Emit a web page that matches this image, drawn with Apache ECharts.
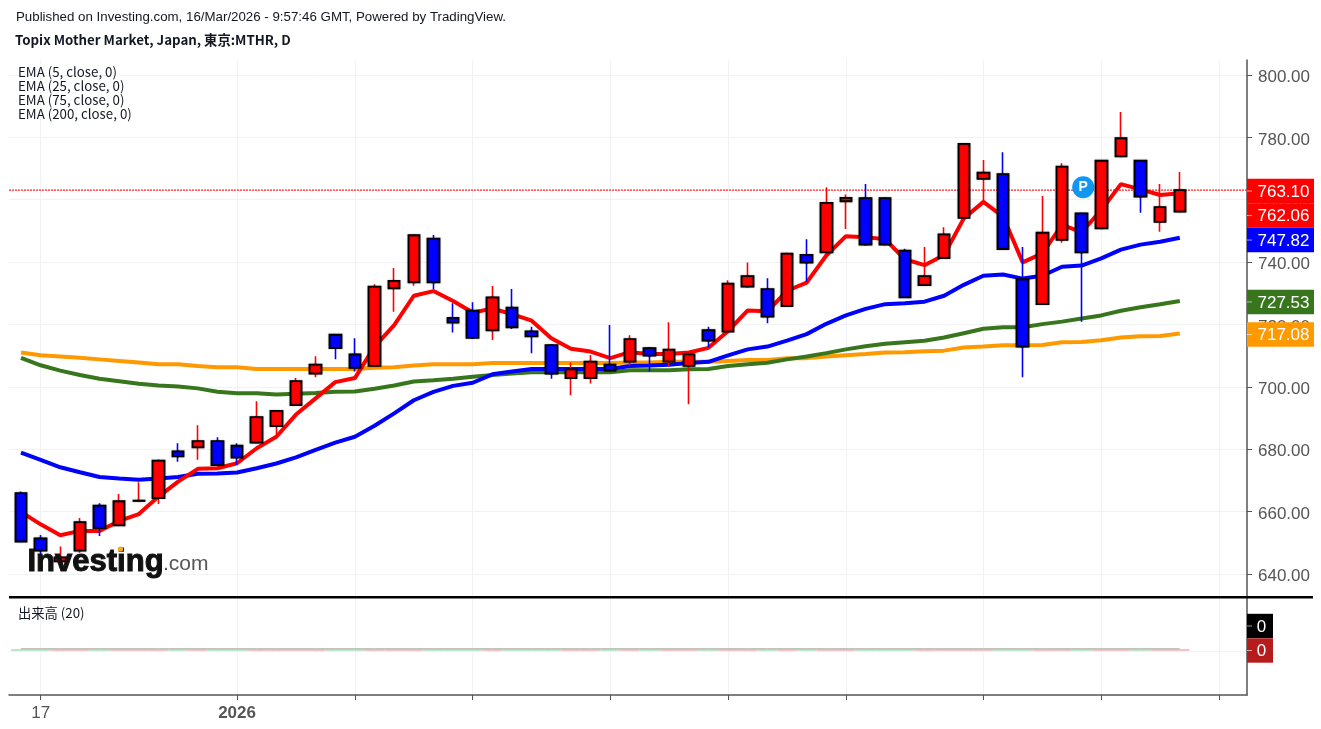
<!DOCTYPE html>
<html>
<head>
    <meta charset="utf-8">
    <title>Topix Mother Market</title>
    <script src="https://cdn.jsdelivr.net/npm/echarts@6/dist/echarts.min.js"></script>
    <style>html, body { margin: 0; padding: 0; background: #fff; overflow: hidden; }</style>
</head>
<body>
    <div id="chartwin" style="width: 1321px;height:729px;"></div>
    <script type="text/javascript">
// candles, left to right, one per trading day
var opens  = [665.9,651.4,644.0,647.5,661.9,655.6,663.4,664.3,679.3,680.6,682.6,681.1,682.1,687.4,694.1,704.2,716.7,710.4,706.7,731.6,733.5,747.5,722.1,724.4,718.1,725.4,717.8,713.4,702.8,702.8,707.1,708.1,712.4,708.1,706.7,718.2,717.7,732.1,731.3,725.9,742.3,743.1,759.5,760.5,760.5,743.7,732.6,741.3,754.2,766.7,768.2,734.5,726.5,747.1,755.6,750.8,773.9,772.5,752.9,756.2];
var closes = [650.4,647.5,645.3,656.6,654.7,663.3,663.5,676.3,677.7,682.6,674.9,677.3,690.3,692.3,701.8,707.1,712.4,706.1,732.1,734.0,748.6,733.5,720.6,715.7,728.7,719.1,716.2,704.2,705.6,708.1,705.2,715.3,710.0,711.9,710.4,714.8,733.1,735.5,722.5,742.7,739.8,759.0,760.6,745.6,745.6,728.7,735.5,748.9,777.9,768.7,744.2,712.9,749.4,770.6,743.1,772.5,779.7,761.0,757.6,763.1];
var lows   = [650.4,645.8,643.2,646.8,652.2,655.6,663.4,662.4,676.0,676.6,674.9,674.9,682.1,684.6,694.1,703.1,708.8,704.9,706.7,724.1,732.4,731.3,717.4,715.7,715.0,718.5,710.8,702.6,697.3,701.1,704.9,706.8,704.9,706.5,694.4,712.7,717.7,732.0,720.4,725.9,733.7,743.1,750.6,745.6,745.6,728.7,732.6,741.3,754.2,759.4,744.2,703.1,726.5,746.2,720.9,750.8,773.9,755.8,749.7,756.2];
var highs  = [666.4,652.5,648.8,657.9,662.7,665.6,669.4,676.7,681.9,687.7,683.8,681.9,695.4,692.3,702.8,709.8,716.7,715.6,732.9,738.1,748.6,748.7,726.8,727.1,732.3,731.4,719.3,713.4,707.8,710.2,719.8,716.5,712.6,720.7,710.8,719.3,734.2,739.9,734.8,743.0,747.3,764.0,761.7,765.0,760.5,744.3,744.8,751.2,778.1,772.7,775.2,744.8,761.2,771.7,755.8,772.5,788.1,772.5,765.0,768.9];

var ema5   = [659.9,655.9,652.4,653.8,653.8,657.0,659.2,664.8,669.6,673.7,673.9,675.5,680.3,684.0,691.1,696.3,701.5,702.8,712.9,719.8,729.2,730.7,727.5,723.8,725.1,723.3,721.2,715.6,712.2,711.3,709.2,711.1,710.5,710.5,711.0,712.5,717.9,724.5,724.2,730.8,733.4,742.1,748.3,748.0,747.3,740.9,739.0,742.3,754.0,759.3,754.6,739.9,742.8,751.9,749.6,756.7,765.0,763.3,761.5,762.06];
var ema25  = [678.9,676.6,674.2,672.6,671.1,670.6,670.2,670.6,671.1,672.1,672.2,672.5,673.9,675.4,677.4,679.8,682.1,684.0,687.5,691.5,695.7,698.4,700.3,701.3,704.0,704.9,705.7,705.7,705.7,705.7,705.7,706.7,706.8,707.1,707.6,708.0,710.1,712.0,712.9,714.8,716.9,720.2,722.9,725.0,726.5,726.8,727.3,729.2,732.7,735.6,736.0,734.7,735.6,738.5,738.9,741.2,744.0,745.6,746.5,747.82];
var ema75  = [709.3,706.9,705.2,703.8,702.6,701.8,701.0,700.4,700.1,699.5,698.4,697.9,697.9,697.5,697.8,698.0,698.4,698.5,699.4,700.4,701.7,702.1,702.6,703.2,703.8,704.3,704.7,704.7,704.7,704.7,704.7,705.3,705.3,705.3,705.6,705.7,706.7,707.2,707.7,708.8,709.7,710.8,712.0,713.0,713.8,714.3,714.8,715.8,717.2,718.6,719.1,719.1,720.1,720.9,721.9,722.9,724.4,725.5,726.5,727.53];
var ema200 = [711.0,710.1,709.7,709.3,708.8,708.3,707.8,707.2,707.2,706.7,706.3,706.3,705.7,705.7,705.7,705.7,705.7,705.7,706.1,706.3,706.8,707.2,707.2,707.2,707.6,707.6,707.6,707.6,707.6,707.6,707.6,707.8,707.8,708.0,708.0,708.0,708.3,708.6,708.6,709.2,709.2,709.7,710.1,710.5,711.0,711.1,711.4,711.6,712.6,712.9,713.3,713.3,713.4,714.3,714.4,714.9,715.8,716.2,716.3,717.08];

// the export carries no volume, every bar reads 0
var volumes = [0,0,0,0,0,0,0,0,0,0,0,0,0,0,0,0,0,0,0,0,0,0,0,0,0,0,0,0,0,0,0,0,0,0,0,0,0,0,0,0,0,0,0,0,0,0,0,0,0,0,0,0,0,0,0,0,0,0,0,0];

var priceTicks = [640, 660, 680, 700, 720, 740, 760, 780, 800];
var timeTicks  = [1, 11, 17, 23, 30, 36, 42, 49, 55, 61];
var timeLabelAt = [1, 11];
var timeLabels  = ['17', '{b|2026}'];
var lastPrice = 763.10;

var priceTags = [763.10, 762.06, 747.82, 727.53, 717.08];
var priceTagColors = ['#ff0000', '#ff0000', '#0000ff', '#38761d', '#ff9900'];
var volTagLevels = [24, 0];
var volTagColors = ['#000000', '#b71c1c'];

var legendLines = ['EMA (5, close, 0)', 'EMA (25, close, 0)', 'EMA (75, close, 0)', 'EMA (200, close, 0)'];

var X_MIN = -0.611, X_MAX = 62.42;
var AXIS_COLOR = '#555555', GRID_COLOR = '#f0f2f6';

var ohlc = opens.map(function (o, i) { return [i, o, closes[i], lows[i], highs[i]]; });
// second pass without wicks, so only the body gets the black border
var bodies = opens.map(function (o, i) { return [i, o, closes[i], Math.min(o, closes[i]), Math.max(o, closes[i])]; });
var volBars = volumes.map(function (v, i) {
    return { value: [i, v], itemStyle: { color: closes[i] >= opens[i] ? '#f3b4b4' : '#aee0bc' } };
});

function emaSeries(name, values, color) {
    return {
        type: 'line', name: name, xAxisIndex: 0, yAxisIndex: 0, z: 3,
        data: values.map(function (v, i) { return [i, v]; }),
        showSymbol: false, silent: true,
        lineStyle: { color: color, width: 4 }
    };
}

// right hand price badges, pushed down when they would overlap
function tagSeries(xIdx, yIdx, levels, colors, width, texts, offset, textDx) {
    var lastY = -1000;
    return {
        type: 'custom', xAxisIndex: xIdx, yAxisIndex: yIdx, z: 10, silent: true,
        data: levels.map(function (v) { return [X_MAX, v]; }),
        renderItem: function (params, api) {
            var p = api.coord([X_MAX, api.value(1)]);
            if (params.dataIndex === 0) { lastY = -1000; }
            var y = Math.max(p[1] + offset, lastY + 24.5);
            lastY = y;
            return {
                type: 'group',
                children: [
                    { type: 'rect', shape: { x: p[0], y: y - 12.2, width: width, height: 24.4 }, style: { fill: colors[params.dataIndex] } },
                    { type: 'line', shape: { x1: p[0], y1: y, x2: p[0] + 5, y2: y }, style: { stroke: '#ffffff', opacity: 0.6, lineWidth: 1 } },
                    { type: 'text', style: { x: p[0] + width / 2 + textDx, y: y + 1, text: texts[params.dataIndex], fill: '#ffffff', font: '17px "Liberation Sans"', align: 'center', verticalAlign: 'middle' } }
                ]
            };
        }
    };
}

var myChart = echarts.init(document.getElementById('chartwin'));

var legendTexts = legendLines.map(function (t, i) {
    return { type: 'text', left: 18, top: 65.5 + i * 14, z: 20, style: { text: t, fill: '#131722', font: '13.3px "Noto Sans CJK JP"' } };
});

var option = {
    animation: false,
    backgroundColor: '#ffffff',
    textStyle: { fontFamily: 'Liberation Sans' },
    grid: [
        { left: 9, top: 60, width: 1238, height: 537 },
        { left: 9, top: 598, width: 1238, height: 97 }
    ],
    xAxis: [
        {
            type: 'value', gridIndex: 0, min: X_MIN, max: X_MAX,
            axisLine: { show: false },
            axisTick: { show: false, customValues: timeTicks },
            axisLabel: { show: false, customValues: timeLabelAt },
            splitLine: { show: true, lineStyle: { color: GRID_COLOR } }
        },
        {
            type: 'value', gridIndex: 1, min: X_MIN, max: X_MAX,
            axisLine: { show: true, onZero: false, lineStyle: { color: AXIS_COLOR, width: 1.5 } },
            axisTick: { show: true, length: 5, customValues: timeTicks, lineStyle: { color: AXIS_COLOR } },
            axisLabel: {
                show: true, customValues: timeLabelAt, color: AXIS_COLOR, fontSize: 17, margin: 10,
                formatter: function (v) { return timeLabels[timeLabelAt.indexOf(v)]; },
                rich: { b: { fontWeight: 'bold', fontSize: 17, color: AXIS_COLOR } }
            },
            splitLine: { show: true, lineStyle: { color: GRID_COLOR } }
        }
    ],
    yAxis: [
        {
            type: 'value', gridIndex: 0, position: 'right', min: 632.6, max: 804.8,
            axisLine: { show: true, onZero: false, lineStyle: { color: AXIS_COLOR, width: 1.5 } },
            axisTick: { show: true, length: 5, customValues: priceTicks, lineStyle: { color: AXIS_COLOR } },
            axisLabel: {
                show: true, customValues: priceTicks, color: AXIS_COLOR, fontSize: 17, margin: 11,
                verticalAlign: 'top', lineHeight: 5,
                formatter: function (v) { return v.toFixed(2); }
            },
            splitLine: { show: true, lineStyle: { color: GRID_COLOR } }
        },
        {
            type: 'value', gridIndex: 1, position: 'right', min: -44.2, max: 52.8,
            axisLine: { show: true, onZero: false, lineStyle: { color: AXIS_COLOR, width: 1.5 } },
            axisTick: { show: false, customValues: [0] },
            axisLabel: { show: false },
            splitLine: { show: true, lineStyle: { color: GRID_COLOR } }
        }
    ],
    series: [
        {
            // last close, dotted across the whole pane, behind the candles
            type: 'line', name: 'last', xAxisIndex: 0, yAxisIndex: 0, z: 2, silent: true,
            showSymbol: false,
            itemStyle: { color: '#ff0000' },
            lineStyle: { color: '#ff2020', type: [2, 1], width: 1.2, opacity: 1 },
            data: [[X_MIN, lastPrice], [X_MAX, lastPrice]]
        },
        emaSeries('EMA 200', ema200, '#ff9900'),
        emaSeries('EMA 75', ema75, '#38761d'),
        emaSeries('EMA 25', ema25, '#0000ff'),
        emaSeries('EMA 5', ema5, '#ff0000'),
        {
            type: 'candlestick', name: 'wick', xAxisIndex: 0, yAxisIndex: 0, z: 4, silent: true,
            layout: 'horizontal', barWidth: 2, data: ohlc,
            itemStyle: { color: '#ff0000', color0: '#0000ff', borderColor: '#ff0000', borderColor0: '#0000ff', borderWidth: 1.6 }
        },
        {
            type: 'candlestick', name: 'body', xAxisIndex: 0, yAxisIndex: 0, z: 5, silent: true,
            layout: 'horizontal', barWidth: 12, data: bodies,
            itemStyle: {
                color: '#ff0000', color0: '#0000ff', borderColor: '#000000', borderColor0: '#000000', borderWidth: 1.8,
                shadowColor: 'rgba(0,0,0,0.45)', shadowBlur: 1.5
            },
            markPoint: {
                silent: true, symbol: 'circle', symbolSize: 22, animation: false,
                itemStyle: { color: '#0f97f2', shadowBlur: 0 },
                label: { show: true, formatter: 'P', color: '#ffffff', fontWeight: 'bold', fontSize: 14 },
                data: [{ coord: [54.08, 764.0] }]
            }
        },
        {
            type: 'bar', name: '出来高', xAxisIndex: 1, yAxisIndex: 1, z: 3, silent: true,
            barWidth: 19.6, barMinHeight: 1.6, data: volBars
        },
        {
            type: 'line', name: '出来高 MA', xAxisIndex: 1, yAxisIndex: 1, z: 4, silent: true,
            showSymbol: false, lineStyle: { color: '#a8a8a8', width: 1 },
            data: volumes.map(function (v, i) { return [i, v + 2]; })
        },
        tagSeries(0, 0, priceTags, priceTagColors, 67, priceTags.map(function (v) { return v.toFixed(2); }), 1, 3),
        tagSeries(1, 1, volTagLevels, volTagColors, 26, ['0', '0'], -0.8, 1.5)
    ],
    graphic: [
        { type: 'text', left: 16, top: 11, z: 20, style: { text: 'Published on Investing.com, 16/Mar/2026 - 9:57:46 GMT, Powered by TradingView.', fill: '#131722', font: '13.3px "Liberation Sans"' } },
        { type: 'text', left: 15, top: 33, z: 20, style: { text: 'Topix Mother Market, Japan, 東京:MTHR, D', fill: '#131722', font: 'bold 13.3px "Noto Sans CJK JP"' } },
        { type: 'text', left: 18, top: 606.5, z: 20, style: { text: '出来高 (20)', fill: '#131722', font: '13.3px "Noto Sans CJK JP"' } },
        // pane separator
        { type: 'rect', z: 20, shape: { x: 9, y: 596, width: 1304, height: 2.4 }, style: { fill: '#000000' } },
        // watermark
        { type: 'text', left: 27, top: 546, z: 20, style: { text: 'Investing', fill: '#111111', stroke: '#111111', lineWidth: 1, font: 'bold 31px "Liberation Sans"', shadowColor: 'rgba(0,0,0,0.5)', shadowBlur: 3 } },
        { type: 'text', left: 163, top: 554, z: 20, style: { text: '.com', fill: '#555555', font: '21px "Liberation Sans"' } },
        { type: 'circle', z: 20, shape: { cx: 120.5, cy: 549, r: 2.6 }, style: { fill: '#f7a81b' } }
    ].concat(legendTexts)
};

myChart.setOption(option);
    </script>
</body>
</html>
